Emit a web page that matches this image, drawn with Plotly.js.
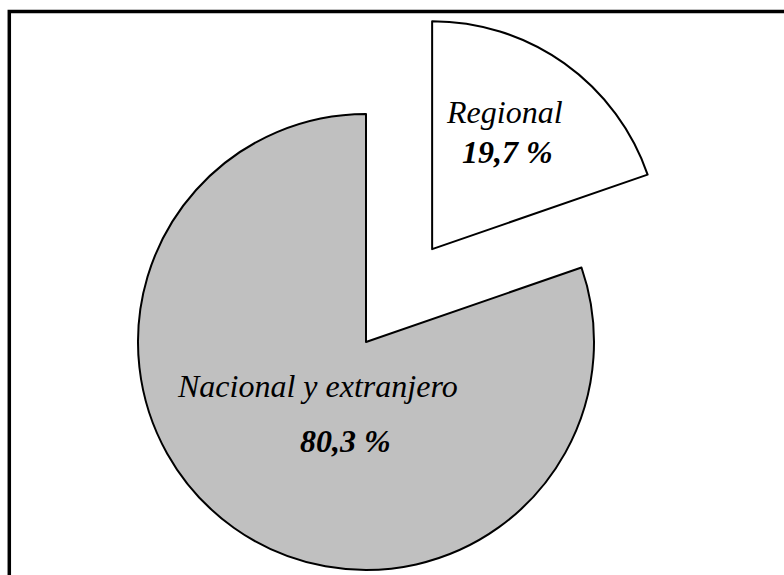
<!DOCTYPE html>
<html>
<head>
<meta charset="utf-8">
<script src="https://cdn.plot.ly/plotly-3.0.1.min.js"></script>
<style>
html, body { margin: 0; padding: 0; overflow: hidden; background: #fff; }
#chart { width: 784px; height: 684px; }
</style>
</head>
<body>
<div id="chart"></div>
<script>
var categories = ["Regional", "Nacional y extranjero"];
var shares = [19.7, 80.3];
var shareLabels = ["19,7 %", "80,3 %"];
var sliceColors = ["#FFFFFF", "#C0C0C0"];
var pulls = [0.5, 0];

var trace = {
  type: "pie",
  labels: categories,
  values: shares,
  sort: false,
  direction: "clockwise",
  rotation: 0,
  pull: pulls,
  marker: { colors: sliceColors, line: { color: "#000000", width: 2 } },
  textinfo: "none",
  hoverinfo: "none",
  showlegend: false
};

var fontFam = "Liberation Serif, Times New Roman, serif";
// label placement (paper coords) for name line and percent line of each slice
var namePos = [[0.7032, 0.8363], [0.4284, 0.4357]];
var pctPos = [[0.7076, 0.7778], [0.4693, 0.3553]];

var annotations = [];
for (var i = 0; i < categories.length; i++) {
  annotations.push({
    xref: "paper", yref: "paper", x: namePos[i][0], y: namePos[i][1],
    xanchor: "center", yanchor: "middle", showarrow: false,
    text: "<i>" + categories[i] + "</i>",
    font: { family: fontFam, size: 32, color: "#000000" }
  });
  annotations.push({
    xref: "paper", yref: "paper", x: pctPos[i][0], y: pctPos[i][1],
    xanchor: "center", yanchor: "middle", showarrow: false,
    text: "<b><i>" + shareLabels[i] + "</i></b>",
    font: { family: fontFam, size: 32, color: "#000000" }
  });
}

var layout = {
  width: 784,
  height: 684,
  margin: { l: 24, r: 76, t: 0, b: 0 },
  paper_bgcolor: "#FFFFFF",
  plot_bgcolor: "#FFFFFF",
  showlegend: false,
  annotations: annotations,
  shapes: [{
    type: "rect", xref: "paper", yref: "paper",
    x0: -0.0215, x1: 1.2, y0: -0.3, y1: 0.9832,
    line: { color: "#000000", width: 3.5 }, fillcolor: "rgba(0,0,0,0)", layer: "above"
  }]
};

Plotly.newPlot("chart", [trace], layout, { staticPlot: true, displayModeBar: false });
</script>
</body>
</html>
